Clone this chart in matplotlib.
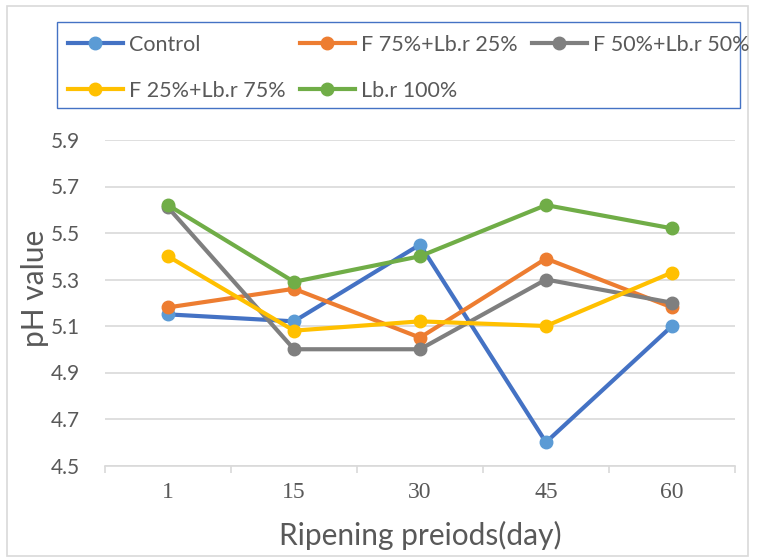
import matplotlib
matplotlib.use("Agg")
import matplotlib.pyplot as plt
from matplotlib.patches import Rectangle
import numpy as np

days = ["1", "15", "30", "45", "60"]
series_names = ["Control", "F 75%+Lb.r 25%", "F 50%+Lb.r 50%", "F 25%+Lb.r 75%", "Lb.r 100%"]
control = [5.15, 5.12, 5.45, 4.60, 5.10]
f75_lbr25 = [5.18, 5.26, 5.05, 5.39, 5.18]
f50_lbr50 = [5.61, 5.00, 5.00, 5.30, 5.20]
f25_lbr75 = [5.40, 5.08, 5.12, 5.10, 5.33]
lbr100 = [5.62, 5.29, 5.40, 5.62, 5.52]
yticks = [4.5, 4.7, 4.9, 5.1, 5.3, 5.5, 5.7, 5.9]

line_colors = ["#4472C4", "#ED7D31", "#7F7F7F", "#FFC000", "#70AD47"]
marker_colors = ["#5B9BD5", "#ED7D31", "#7F7F7F", "#FFC000", "#70AD47"]
text_gray = "#595959"
sans = ["Lato", "DejaVu Sans"]

W, H = 760, 560
fig = plt.figure(figsize=(W / 100, H / 100), dpi=100)

# light chart border, like the Excel chart area
fig.patches.append(Rectangle((7 / W, 1 - 556 / H), 741 / W, 550 / H, transform=fig.transFigure,
                             fill=False, edgecolor="#d9d9d9", linewidth=1.2))

ax = fig.add_axes([105 / W, 1 - 465.5 / H, 630 / W, 325.5 / H])
x = np.arange(len(days))
handles = []
for vals, lc, mc, name in zip([control, f75_lbr25, f50_lbr50, f25_lbr75, lbr100],
                              line_colors, marker_colors, series_names):
    h, = ax.plot(x, vals, color=lc, linewidth=3, marker="o", markersize=9,
                 markerfacecolor=mc, markeredgecolor=mc, label=name, zorder=3)
    handles.append(h)

ax.set_xlim(-0.5, len(days) - 0.5)
ax.set_ylim(4.5, 5.9)
ax.set_yticks(yticks)
ax.set_yticklabels([f"{v:.1f}" for v in yticks], fontfamily=sans, fontsize=15, color=text_gray)
ax.yaxis.grid(True, color="#d9d9d9", linewidth=1.2)
ax.set_axisbelow(True)
ax.tick_params(axis="y", length=0, pad=18)

ax.set_xticks(x)
ax.set_xticklabels(days, fontfamily=["Liberation Serif"], fontsize=17, color=text_gray)
ax.set_xticks(np.arange(len(days) + 1) - 0.5, minor=True)
ax.tick_params(axis="x", which="major", length=0, pad=12)
ax.tick_params(axis="x", which="minor", length=5, color="#d9d9d9", width=1.2)

for side in ["top", "right", "left"]:
    ax.spines[side].set_visible(False)
ax.spines["bottom"].set_color("#d9d9d9")
ax.spines["bottom"].set_linewidth(1.2)

ax.set_xlabel("Ripening preiods(day)", fontfamily=sans, fontsize=21.5, color=text_gray, va="center")
ax.xaxis.set_label_coords(420 / W, 1 - 535 / H, transform=fig.transFigure)
ax.set_ylabel("pH value", fontfamily=sans, fontsize=21.5, color=text_gray, va="center")
ax.yaxis.set_label_coords(35 / W, 1 - 288 / H, transform=fig.transFigure)

# legend box
fig.patches.append(Rectangle((57 / W, 1 - 108 / H), 683 / W, 86 / H, transform=fig.transFigure,
                             fill=False, edgecolor="#4472C4", linewidth=1.0))
order = [0, 3, 1, 4, 2]
fig.legend([handles[i] for i in order], [series_names[i] for i in order],
           loc="upper left", bbox_to_anchor=(68 / W, 1 - 35 / H), ncol=3, frameon=False,
           prop={"family": sans, "size": 15.5}, labelcolor=text_gray,
           handlelength=2.55, handletextpad=0.3, columnspacing=0.65, labelspacing=1.2,
           borderaxespad=0, borderpad=0)

fig.savefig("out.png", dpi=100)
